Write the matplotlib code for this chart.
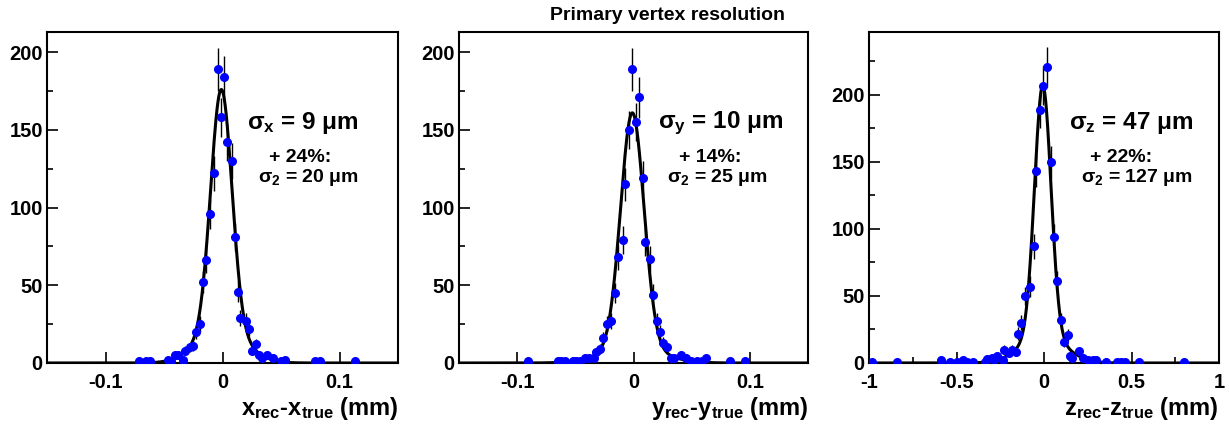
import numpy as np
import matplotlib
matplotlib.use("Agg")
import matplotlib.pyplot as plt
from matplotlib.ticker import MultipleLocator

plt.rcParams['font.family'] = ['Liberation Sans', 'DejaVu Sans']
plt.rcParams['font.weight'] = 'bold'
plt.rcParams['mathtext.fontset'] = 'custom'
plt.rcParams['mathtext.rm'] = 'Liberation Sans:bold'
plt.rcParams['mathtext.bf'] = 'Liberation Sans:bold'
plt.rcParams['mathtext.it'] = 'Liberation Sans:bold'
plt.rcParams['mathtext.default'] = 'rm'

# residuals x (mm) / entries
x_pos = [-0.071, -0.065, -0.062, -0.047, -0.044, -0.041, -0.038, -0.034, -0.032, -0.028,
         -0.025, -0.023, -0.019, -0.017, -0.014, -0.011, -0.007, -0.004, -0.001, 0.001,
         0.004, 0.008, 0.011, 0.013, 0.015, 0.020, 0.023, 0.025, 0.029, 0.031,
         0.034, 0.038, 0.043, 0.050, 0.053, 0.079, 0.083, 0.113]
x_cnt = [1, 1, 1, 2, 1, 5, 5, 2, 8, 10,
         11, 20, 25, 52, 66, 96, 122, 189, 158, 184,
         142, 130, 81, 46, 29, 27, 22, 8, 12, 5,
         3, 5, 3, 1, 2, 1, 1, 1]

y_pos = [-0.091, -0.065, -0.062, -0.059, -0.052, -0.049, -0.046, -0.042, -0.038, -0.034,
         -0.032, -0.029, -0.026, -0.023, -0.019, -0.016, -0.013, -0.009, -0.007, -0.004,
         -0.001, 0.002, 0.005, 0.008, 0.010, 0.014, 0.017, 0.020, 0.023, 0.025,
         0.029, 0.032, 0.035, 0.041, 0.045, 0.049, 0.055, 0.059, 0.062, 0.083, 0.096]
y_cnt = [1, 1, 1, 1, 1, 1, 1, 3, 3, 3,
         7, 9, 16, 25, 27, 45, 68, 79, 115, 150,
         189, 155, 171, 119, 78, 67, 44, 27, 20, 13,
         10, 3, 3, 5, 3, 1, 1, 1, 3, 1, 1]

z_pos = [-0.985, -0.842, -0.586, -0.538, -0.500, -0.462, -0.439, -0.405, -0.338, -0.323,
         -0.300, -0.285, -0.266, -0.234, -0.228, -0.200, -0.183, -0.158, -0.148, -0.129,
         -0.106, -0.082, -0.059, -0.044, -0.025, -0.006, 0.019, 0.038, 0.057, 0.076,
         0.095, 0.114, 0.137, 0.146, 0.160, 0.198, 0.222, 0.251, 0.279, 0.298,
         0.356, 0.418, 0.441, 0.460, 0.542, 0.802]
z_cnt = [1, 1, 2, 1, 1, 2.5, 1, 1, 1, 3,
         4, 2, 5.5, 2.5, 10, 7.5, 10, 8, 22, 30,
         50, 57, 87, 143, 189, 207, 221, 150, 94, 61,
         32, 16, 21, 5.5, 4, 9, 4, 2.5, 2, 2.5,
         1, 1, 1, 1, 1, 1]

# double gaussian fit results: peak, mean, sigma1, sigma2, fraction of wide part (all mm)
fit_x = (176, -0.001, 0.009, 0.020, 0.24)
fit_y = (161, -0.001, 0.010, 0.025, 0.14)
fit_z = (207, -0.007, 0.047, 0.127, 0.22)

labels = [
    (r'$\sigma_{x}$ = 9 $\mu$m', '+ 24%:', r'$\sigma_{2}$ = 20 $\mu$m', r'$x_{rec}$-$x_{true}$ (mm)'),
    (r'$\sigma_{y}$ = 10 $\mu$m', '+ 14%:', r'$\sigma_{2}$ = 25 $\mu$m', r'$y_{rec}$-$y_{true}$ (mm)'),
    (r'$\sigma_{z}$ = 47 $\mu$m', '+ 22%:', r'$\sigma_{2}$ = 127 $\mu$m', r'$z_{rec}$-$z_{true}$ (mm)'),
]


def double_gaus(x, peak, mu, s1, s2, f):
    g1 = (1 - f) / s1 * np.exp(-0.5 * ((x - mu) / s1) ** 2)
    g2 = f / s2 * np.exp(-0.5 * ((x - mu) / s2) ** 2)
    norm = (1 - f) / s1 + f / s2
    return peak * (g1 + g2) / norm


fig = plt.figure(figsize=(12.29, 4.25), dpi=100)
rects = [(47, 351), (459, 349), (869, 350)]
data = [(x_pos, x_cnt, fit_x), (y_pos, y_cnt, fit_y), (z_pos, z_cnt, fit_z)]
xlims = [(-0.15, 0.15), (-0.15, 0.15), (-1, 1)]
ylims = [213, 213, 247]
text_x = [(0.729, 0.72, 0.744), (0.748, 0.72, 0.742), (0.749, 0.72, 0.766)]

for i in range(3):
    left, w = rects[i]
    ax = fig.add_axes([left / 1229, 62 / 425, w / 1229, 331 / 425])
    pos, cnt, fit = data[i]
    pos = np.array(pos)
    cnt = np.array(cnt)
    xx = np.linspace(xlims[i][0], xlims[i][1], 1500)
    ax.plot(xx, double_gaus(xx, *fit), color='black', lw=2.2, zorder=3)
    ax.errorbar(pos, cnt, yerr=np.sqrt(cnt), fmt='o', color='blue', ms=5.5,
                ecolor='black', elinewidth=1, capsize=0, zorder=4)
    ax.set_xlim(*xlims[i])
    ax.set_ylim(0, ylims[i])

    if i < 2:
        ax.set_xticks([-0.1, 0, 0.1])
        ax.set_xticklabels(['-0.1', '0', '0.1'])
    else:
        ax.set_xticks([-1, -0.5, 0, 0.5, 1])
        ax.set_xticklabels(['-1', '-0.5', '0', '0.5', '1'])
        ax.xaxis.set_minor_locator(MultipleLocator(0.25))
    ax.yaxis.set_major_locator(MultipleLocator(50))
    ax.yaxis.set_minor_locator(MultipleLocator(25))
    ax.tick_params(which='both', direction='in', width=1.2, labelsize=14.5, top=False, right=False)
    ax.tick_params(which='major', length=8)
    ax.tick_params(axis='x', which='major', pad=7)
    ax.tick_params(axis='y', which='major', pad=3)
    ax.tick_params(which='minor', length=4)
    for lab in ax.get_xticklabels() + ax.get_yticklabels():
        lab.set_fontweight('bold')
    for sp in ax.spines.values():
        sp.set_linewidth(1.5)

    t1, t2, t3, xl = labels[i]
    tx = text_x[i]
    ax.text(tx[0], 0.725, t1, transform=ax.transAxes, ha='center', va='center', fontsize=17.5)
    ax.text(tx[1], 0.622, t2, transform=ax.transAxes, ha='center', va='center', fontsize=14)
    ax.text(tx[2], 0.559, t3, transform=ax.transAxes, ha='center', va='center', fontsize=14)
    ax.set_xlabel(xl, fontsize=17, fontweight='bold', loc='right', labelpad=2)

fig.text(667 / 1229, 1 - 15 / 425, 'Primary vertex resolution', ha='center', va='center',
         fontsize=14, fontweight='bold')

fig.savefig('out.png', dpi=100)
